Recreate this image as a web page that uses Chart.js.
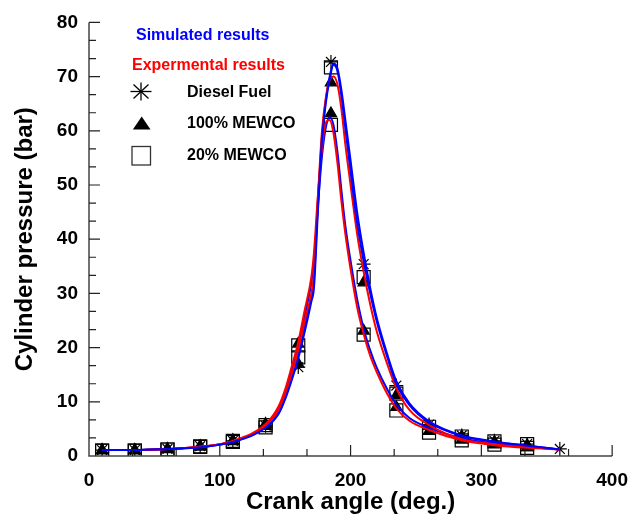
<!DOCTYPE html>
<html>
<head>
<meta charset="utf-8">
<script src="https://cdn.jsdelivr.net/npm/chart.js@4.4.0/dist/chart.umd.min.js"></script>
<style>
body { margin: 0; background: #fff; }
#wrap { position: relative; width: 641px; height: 516px; }
.lg { position: absolute; font: bold 16px 'Liberation Sans', Arial, sans-serif; line-height: 16px; white-space: nowrap; color: #000; }
</style>
</head>
<body>
<div id="wrap">
  <canvas id="pressure"></canvas>
  <svg width="641" height="516" style="position:absolute;left:0;top:0;pointer-events:none">
    <g stroke="#000" stroke-width="1.3">
      <line x1="141" y1="82.5" x2="141" y2="100.5"/>
      <line x1="130.5" y1="91.5" x2="151.5" y2="91.5"/>
      <line x1="133.5" y1="84.5" x2="148.5" y2="98.5"/>
      <line x1="133.5" y1="98.5" x2="148.5" y2="84.5"/>
    </g>
    <polygon points="141.7,116.5 150.5,129.5 132.9,129.5" fill="#000"/>
    <rect x="132" y="146.5" width="18.5" height="18.5" fill="none" stroke="#333" stroke-width="1.3"/>
  </svg>
  <div class="lg" style="left:136px;top:27px;color:#0000ff">Simulated results</div>
  <div class="lg" style="left:132px;top:57px;color:#ff0000">Expermental results</div>
  <div class="lg" style="left:187px;top:84px">Diesel Fuel</div>
  <div class="lg" style="left:187px;top:115px">100% MEWCO</div>
  <div class="lg" style="left:187px;top:147px">20% MEWCO</div>
</div>
<script>
// crank angles used for the pressure curves
const curveAngles = [10, 35, 60, 85, 110, 135, 145, 150, 155, 160, 165, 170, 172, 175, 178, 181, 184, 187, 190, 193, 196, 200, 205, 210, 215, 220, 228, 235, 245, 260, 285, 310, 335, 360];

// simulated (blue)
const simDiesel = [1.1, 1.1, 1.3, 1.6, 2.6, 5.2, 7.8, 10.5, 14, 18, 23, 28.5, 31, 45, 58, 65, 69.5, 72.2, 71, 66.5, 60.5, 52.5, 43, 36, 30, 24.8, 18.3, 13.3, 9.4, 6.2, 3.7, 2.6, 1.9, 1.2];
const sim100 = [1.1, 1.1, 1.3, 1.6, 2.6, 5.3, 8.0, 10.8, 14.5, 18.8, 24, 29.5, 32.5, 46.5, 58.5, 65.5, 70, 72.4, 71.5, 67.5, 62, 54.5, 45, 37.5, 31, 25.5, 18.8, 13.8, 9.7, 6.4, 3.8, 2.7, 1.9, 1.2];
const sim20 = [1.1, 1.1, 1.3, 1.7, 2.7, 5.6, 8.8, 11.8, 15.8, 20.3, 26, 32, 36, 46, 55, 60.5, 62.5, 61, 56, 49, 42.5, 36, 29, 23.5, 19.5, 16.3, 12.3, 9.5, 7.0, 5.2, 3.3, 2.3, 1.7, 1.2];

// experimental (red)
const expHigh = [1.1, 1.1, 1.3, 1.7, 2.7, 5.6, 8.5, 11.3, 15, 19.5, 25, 30, 33.5, 47.5, 59.5, 66, 69.3, 70, 68.5, 64, 57.5, 50, 41, 34, 28, 23, 17, 12.5, 8.5, 5.7, 3.1, 2.2, 1.7, 1.2];
const expLow = [1.1, 1.1, 1.3, 1.7, 2.8, 5.9, 9.2, 12.3, 16.5, 21, 27, 33, 37.5, 48, 56.5, 61.5, 62, 59.5, 54, 47, 41, 34.5, 27.5, 22.5, 18.5, 15.5, 11.5, 8.8, 6.5, 4.8, 2.9, 2.0, 1.5, 1.2];

// measured points
const markerAngles = [10, 35, 60, 85, 110, 135, 160, 185, 210, 235, 260, 285, 310, 335];
const dieselAngles = [10, 35, 60, 85, 110, 135, 160, 185, 210, 235, 260, 285, 310, 335, 360];
const dieselP = [1.1, 1.1, 1.3, 1.8, 2.8, 5.6, 16.4, 72.7, 35.4, 13, 5.8, 3.8, 2.8, 2.2, 1.3];
const mewco100P = [1.1, 1.1, 1.3, 1.8, 2.9, 5.9, 20.7, 68.9, 32, 11.2, 5.5, 3.6, 2.6, 2.0];
const mewco100LowP = [1.0, 1.0, 1.2, 1.7, 2.7, 5.5, 17, 63.2, 23.1, 9, 4.6, 3.0, 2.2, 1.6];
const mewco20P = [1.0, 1.0, 1.2, 1.8, 2.8, 5.7, 20.4, 71.7, 33, 11.5, 5.4, 3.6, 2.7, 2.2];
const mewco20LowP = [1.0, 1.0, 1.2, 1.7, 2.6, 5.3, 18.2, 61.1, 22.4, 8.4, 4.3, 2.9, 2.1, 1.5];

const xTickValues = [0, 100, 200, 300, 400];
const yTickValues = [0, 10, 20, 30, 40, 50, 60, 70, 80];

Chart.defaults.font.family = "'Liberation Sans', Arial, sans-serif";

function pts(xs, ys) {
    return xs.map((x, i) => ({ x: x, y: ys[i] }));
}

function curve(label, ys, color) {
    return {
        label: label,
        data: pts(curveAngles, ys),
        showLine: true,
        borderColor: color,
        borderWidth: 2,
        pointRadius: 0,
        tension: 0.4,
        cubicInterpolationMode: 'monotone',
        fill: false
    };
}

function marks(label, xs, ys, style, r, fill) {
    return {
        label: label,
        data: pts(xs, ys),
        showLine: false,
        pointStyle: style,
        pointRadius: r,
        borderColor: '#000',
        backgroundColor: fill,
        borderWidth: 1.2
    };
}

// inward ticks with two minor ticks between majors
const innerTicks = {
    id: 'innerTicks',
    afterDatasetsDraw(chart) {
        const ctx = chart.ctx;
        const x = chart.scales.x, y = chart.scales.y;
        ctx.save();
        ctx.strokeStyle = '#444';
        ctx.lineWidth = 1.5;
        ctx.beginPath();
        ctx.moveTo(x.left, y.top);
        ctx.lineTo(x.left, y.bottom);
        ctx.lineTo(x.right, y.bottom);
        ctx.stroke();
        ctx.strokeStyle = '#222';
        ctx.lineWidth = 1.2;
        ctx.beginPath();
        for (let i = 0; i < xTickValues.length - 1; i++) {
            const step = (xTickValues[i + 1] - xTickValues[i]) / 3;
            for (let k = 1; k <= 3; k++) {
                const px = x.getPixelForValue(xTickValues[i] + k * step);
                const len = k === 3 ? 11 : 7;
                ctx.moveTo(px, y.bottom);
                ctx.lineTo(px, y.bottom - len);
            }
        }
        for (let i = 0; i < yTickValues.length - 1; i++) {
            const step = (yTickValues[i + 1] - yTickValues[i]) / 3;
            for (let k = 1; k <= 3; k++) {
                const py = y.getPixelForValue(yTickValues[i] + k * step);
                const len = k === 3 ? 11 : 7;
                ctx.moveTo(x.left, py);
                ctx.lineTo(x.left + len, py);
            }
        }
        ctx.stroke();
        ctx.restore();
    }
};

const CHART = document.getElementById('pressure');
const pressureChart = new Chart(CHART, {
    type: 'scatter',
    data: {
        datasets: [
            curve('Simulated Diesel', simDiesel, '#0000ff'),
            curve('Experimental high', expHigh, '#ff0000'),
            curve('Simulated 100% MEWCO', sim100, '#0000ff'),
            curve('Experimental low', expLow, '#ff0000'),
            curve('Simulated 20% MEWCO', sim20, '#0000ff'),
            marks('Diesel Fuel', dieselAngles, dieselP, 'star', 7, '#000'),
            marks('100% MEWCO', markerAngles, mewco100P, 'triangle', 6.5, '#000'),
            marks('100% MEWCO low', markerAngles, mewco100LowP, 'triangle', 6.5, '#000'),
            marks('20% MEWCO', markerAngles, mewco20P, 'rect', 9.2, 'rgba(0,0,0,0)'),
            marks('20% MEWCO low', markerAngles, mewco20LowP, 'rect', 9.2, 'rgba(0,0,0,0)')
        ]
    },
    options: {
        responsive: true,
        maintainAspectRatio: false,
        animation: false,
        layout: { padding: { top: 20, right: 26, left: 0, bottom: 0 } },
        plugins: {
            legend: { display: false },
            tooltip: { enabled: false }
        },
        scales: {
            x: {
                type: 'linear',
                min: 0,
                max: 400,
                afterBuildTicks: s => { s.ticks = xTickValues.map(v => ({ value: v })); },
                afterFit: s => { s.height = 60; },
                grid: { display: false, drawTicks: false },
                border: { display: false },
                ticks: { padding: 13, color: '#000', font: { size: 19, weight: 'bold' }, maxRotation: 0, autoSkip: false },
                title: { display: true, text: 'Crank angle (deg.)', color: '#000', font: { size: 24, weight: 'bold', lineHeight: 1.1 }, padding: { top: 0, bottom: 0 } }
            },
            y: {
                type: 'linear',
                min: 0,
                max: 80,
                afterBuildTicks: s => { s.ticks = yTickValues.map(v => ({ value: v })); },
                afterFit: s => { s.width = 89; },
                grid: { display: false, drawTicks: false },
                border: { display: false },
                ticks: { padding: 11, color: '#000', font: { size: 19, weight: 'bold' }, autoSkip: false },
                title: { display: true, text: 'Cylinder pressure (bar)', color: '#000', font: { size: 24, weight: 'bold', lineHeight: 1.1 }, padding: { top: 12, bottom: 0 } }
            }
        }
    },
    plugins: [innerTicks]
});
</script>
</body>
</html>
